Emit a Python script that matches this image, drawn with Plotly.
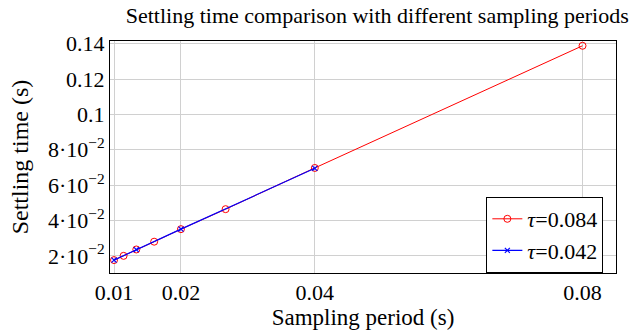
import plotly.graph_objects as go

red_x = [0.01, 0.01143, 0.01333, 0.016, 0.02, 0.02667, 0.04, 0.08]
red_y = [0.0176, 0.0200, 0.0236, 0.0280, 0.0351, 0.0464, 0.0697, 0.1388]
blue_x = [0.01, 0.01333, 0.02, 0.04]
blue_y = [0.0176, 0.0235, 0.0351, 0.0695]

x_ticks = [0.01, 0.02, 0.04, 0.08]
x_ticktext = ["0.01", "0.02", "0.04", "0.08"]
y_ticks = [0.02, 0.04, 0.06, 0.08, 0.1, 0.12, 0.14]
y_ticktext = ["2·10<sup>−2</sup>", "4·10<sup>−2</sup>", "6·10<sup>−2</sup>", "8·10<sup>−2</sup>",
              "0.1", "0.12", "0.14"]

font = "Liberation Serif"

fig = go.Figure()
fig.add_trace(go.Scatter(
    x=red_x, y=red_y, mode="lines+markers", name="<i>τ</i>=0.084",
    line=dict(color="red", width=1),
    marker=dict(symbol="circle-open", size=7, color="red", line=dict(width=1))))
fig.add_trace(go.Scatter(
    x=blue_x, y=blue_y, mode="lines+markers", name="<i>τ</i>=0.042",
    line=dict(color="blue", width=1.2),
    marker=dict(symbol="x-thin-open", size=5, color="blue", line=dict(width=1.2, color="blue"))))

fig.update_layout(
    width=633, height=334,
    margin=dict(l=110, r=17, t=41, b=53),
    paper_bgcolor="white", plot_bgcolor="white",
    font=dict(family=font, size=22, color="black"),
    title=dict(text="Settling time comparison with different sampling periods",
               x=0.596, xanchor="center", y=0.955, yanchor="middle",
               font=dict(family=font, size=22, color="black")),
    showlegend=True,
    legend=dict(x=0.975, y=0.0, xanchor="right", yanchor="bottom",
                bgcolor="white", bordercolor="black", borderwidth=1,
                font=dict(family=font, size=22), tracegroupgap=0,
                itemwidth=30),
    xaxis=dict(range=[0.0094, 0.085], tickvals=x_ticks, ticktext=x_ticktext,
               showgrid=True, gridcolor="#d0d0d0", gridwidth=1,
               showline=True, linecolor="black", linewidth=1, mirror=True,
               zeroline=False, ticks="", tickfont=dict(size=22),
               title=dict(text="Sampling period (s)", font=dict(size=23), standoff=0)),
    yaxis=dict(range=[0.0103, 0.1415], tickvals=y_ticks, ticktext=y_ticktext,
               showgrid=True, gridcolor="#d0d0d0", gridwidth=1,
               showline=True, linecolor="black", linewidth=1, mirror=True,
               zeroline=False, ticks="", tickfont=dict(size=22),
               title=dict(text="Settling time (s)", font=dict(size=24), standoff=12)),
)

fig.write_html("out.html")
